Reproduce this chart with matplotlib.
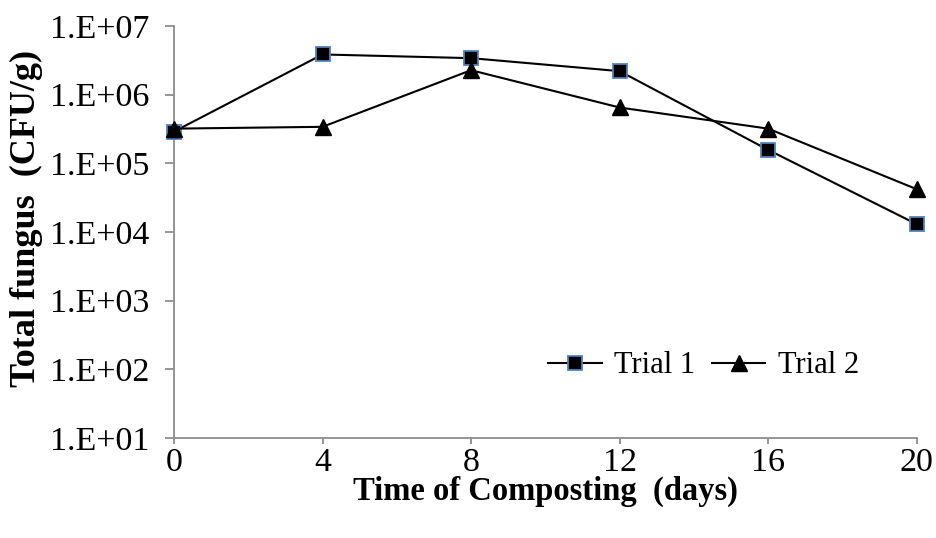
import matplotlib
matplotlib.use("Agg")
import matplotlib.pyplot as plt
from matplotlib.ticker import FixedLocator, FixedFormatter, NullLocator
from matplotlib.font_manager import FontProperties

# Composting time (days) and total fungus counts (CFU/g)
days = [0, 4, 8, 12, 16, 20]
trial1 = [2.9e5, 3.85e6, 3.4e6, 2.2e6, 1.57e5, 1.3e4]
trial2 = [3.2e5, 3.4e5, 2.27e6, 6.5e5, 3.2e5, 4.2e4]

y_ticks = [1e1, 1e2, 1e3, 1e4, 1e5, 1e6, 1e7]
y_tick_labels = ["1.E+01", "1.E+02", "1.E+03", "1.E+04", "1.E+05", "1.E+06", "1.E+07"]
x_ticks = [0, 4, 8, 12, 16, 20]
x_tick_labels = ["0", "4", "8", "12", "16", "20"]

serif = ["Liberation Serif", "DejaVu Serif"]
plt.rcParams["font.family"] = serif

fig = plt.figure(figsize=(9.37, 5.38), dpi=100)
ax = fig.add_axes([0.1857, 0.1859, 0.9783 - 0.1857, 0.9517 - 0.1859])

axis_grey = "#8c8c8c"

ax.plot(days, trial1, color="black", lw=1.5, marker="s", ms=10.5,
        markerfacecolor="black", markeredgecolor="#4f81bd", markeredgewidth=1.3,
        label="Trial 1", zorder=3)
ax.plot(days, trial2, color="black", lw=1.5, marker="^", ms=12,
        markerfacecolor="black", markeredgecolor="black",
        label="Trial 2", zorder=3)

ax.set_yscale("log")
ax.set_ylim(1e1, 1e7)
ax.set_xlim(0, 20)
ax.yaxis.set_major_locator(FixedLocator(y_ticks))
ax.yaxis.set_major_formatter(FixedFormatter(y_tick_labels))
ax.yaxis.set_minor_locator(NullLocator())
ax.xaxis.set_major_locator(FixedLocator(x_ticks))
ax.xaxis.set_major_formatter(FixedFormatter(x_tick_labels))

for side in ("top", "right"):
    ax.spines[side].set_visible(False)
for side in ("left", "bottom"):
    ax.spines[side].set_color(axis_grey)
    ax.spines[side].set_linewidth(1.3)

ax.tick_params(axis="y", direction="out", length=6.5, width=1.3, color=axis_grey,
               labelsize=24.5, pad=11)
ax.tick_params(axis="x", direction="out", length=4.5, width=1.3, color=axis_grey,
               labelsize=24.5, pad=2)

for line in ax.get_lines():
    line.set_clip_on(False)

ax.set_xlabel("Time of Composting  (days)", fontsize=23.5, fontweight="bold",
              labelpad=-1)
ax.set_ylabel("Total fungus  (CFU/g)", fontsize=26, fontweight="bold")
ax.yaxis.set_label_coords(-0.177, 0.532)

legend_font = FontProperties(family=serif, size=22)
ax.legend(loc="center", bbox_to_anchor=(0.713, 0.175), ncol=2, frameon=False,
          prop=legend_font, handlelength=1.75, handletextpad=0.4, columnspacing=0.55)

fig.savefig("out.png", dpi=100, facecolor="white")
